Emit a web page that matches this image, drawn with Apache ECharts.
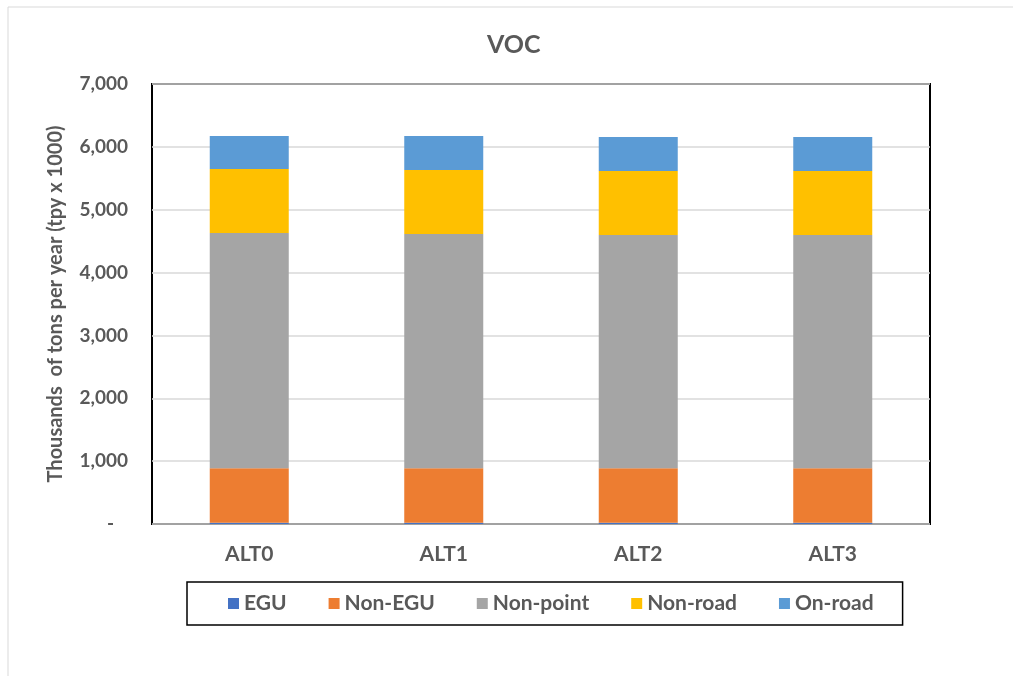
<!DOCTYPE html>
<html>
<head>
<meta charset="utf-8">
<script src="https://cdn.jsdelivr.net/npm/echarts@6/dist/echarts.min.js"></script>
<style>
  html, body { margin: 0; padding: 0; background: #fff; }
  #chart { width: 1013px; height: 676px; }
</style>
</head>
<body>
<div id="chart"></div>
<script>
// categories and stacked values (thousands of tons per year)
var categories = ["ALT0", "ALT1", "ALT2", "ALT3"];
var seriesNames = ["EGU", "Non-EGU", "Non-point", "Non-road", "On-road"];
var egu = [20, 20, 20, 20];
var nonEgu = [867, 867, 867, 867];
var nonPoint = [3743, 3726, 3710, 3710];
var nonRoad = [1017, 1018, 1018, 1018];
var onRoad = [527, 543, 543, 543];
var colors = ["#4472C4", "#ED7D31", "#A5A5A5", "#FFC000", "#5B9BD5"];

var textColor = "#595959";
var font = "Lato, 'Open Sans', sans-serif";

var chart = echarts.init(document.getElementById("chart"));

var values = [egu, nonEgu, nonPoint, nonRoad, onRoad];
var series = seriesNames.map(function (name, i) {
  return {
    name: name,
    type: "bar",
    stack: "total",
    barWidth: 79,
    itemStyle: { color: colors[i] },
    data: values[i]
  };
});

chart.setOption({
  animation: false,
  textStyle: { fontFamily: font },
  title: {
    text: "VOC",
    left: 482,
    top: 27,
    textStyle: { color: textColor, fontSize: 25, fontWeight: "bold", fontFamily: font }
  },
  graphic: [{
    type: "rect",
    shape: { x: 8, y: 7, width: 1100, height: 700 },
    style: { fill: "none", stroke: "#d9d9d9", lineWidth: 1 },
    silent: true
  }],
  grid: {
    left: 152,
    right: 83,
    top: 84,
    bottom: 152,
    show: true,
    borderColor: "#000",
    borderWidth: 2
  },
  legend: {
    data: seriesNames,
    left: 187,
    top: 582,
    padding: [11, 29, 11, 41],
    itemGap: 42,
    itemWidth: 11,
    itemHeight: 11,
    icon: "rect",
    borderColor: "#000",
    borderWidth: 1.5,
    textStyle: { color: textColor, fontSize: 21, fontWeight: "bold", fontFamily: font }
  },
  xAxis: {
    type: "category",
    data: categories,
    axisLine: { show: false },
    axisTick: { show: false },
    axisLabel: { color: textColor, fontSize: 21, fontWeight: "bold", margin: 20 }
  },
  yAxis: {
    type: "value",
    min: 0,
    max: 7000,
    interval: 1000,
    name: "Thousands  of tons per year (tpy x 1000)",
    nameLocation: "middle",
    nameGap: 86,
    nameTextStyle: { color: textColor, fontSize: 20, fontWeight: "bold" },
    axisLine: { show: false },
    axisTick: { show: false },
    splitLine: { lineStyle: { color: "#d9d9d9", width: 1.5 } },
    axisLabel: {
      color: textColor,
      fontSize: 19,
      fontWeight: "bold",
      margin: 24,
      formatter: function (v) {
        return v === 0 ? "-   " : v.toLocaleString("en-US");
      }
    }
  },
  series: series
});
</script>
</body>
</html>
